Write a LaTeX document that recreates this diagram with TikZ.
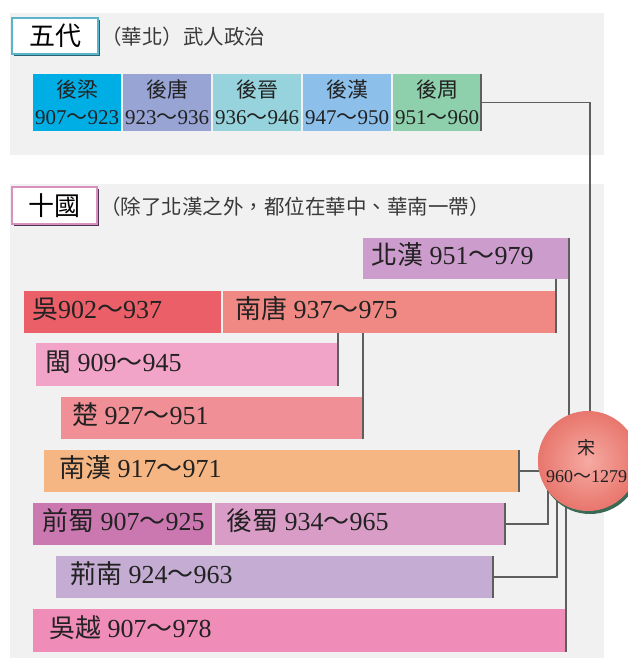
\documentclass[tikz,border=0pt]{standalone}
\usepackage{fontspec}
\setmainfont{Liberation Serif}
\newfontfamily\cjk{Noto Sans CJK TC}
\usetikzlibrary{calc,shadows}
\definecolor{cPanel}{HTML}{F1F1F1}
\definecolor{cLine}{HTML}{5E5E5E}
\definecolor{cText}{HTML}{222222}
\definecolor{cSub}{HTML}{3A3A3A}
\definecolor{cHouliang}{HTML}{00AEE6}
\definecolor{cHoutang}{HTML}{98A4D4}
\definecolor{cHoujin}{HTML}{96D3DC}
\definecolor{cHouhan}{HTML}{8CBFEA}
\definecolor{cHouzhou}{HTML}{8ECFAC}
\definecolor{cBeihan}{HTML}{CC9CCC}
\definecolor{cWu}{HTML}{EA5F68}
\definecolor{cNantang}{HTML}{F08883}
\definecolor{cMin}{HTML}{F2A3C8}
\definecolor{cChu}{HTML}{F08F95}
\definecolor{cNanhan}{HTML}{F5B683}
\definecolor{cQianshu}{HTML}{CC78B0}
\definecolor{cHoushu}{HTML}{D99CC6}
\definecolor{cJingnan}{HTML}{C4ACD2}
\definecolor{cWuyue}{HTML}{F08CB8}
\definecolor{cTeal}{HTML}{5AB4CC}
\definecolor{cTealSh}{HTML}{2A6272}
\definecolor{cPink}{HTML}{D890BC}
\definecolor{cPinkSh}{HTML}{4E3450}
\definecolor{cSongIn}{HTML}{F6AAA2}
\definecolor{cSongOut}{HTML}{E8766D}
\definecolor{cSongSh}{HTML}{3A6A55}
\pgfdeclarelayer{bg}
\pgfdeclarelayer{fg}
\pgfsetlayers{bg,main,fg}
\tikzset{
  panel/.style={fill=cPanel},
  conn/.style={draw=cLine, line width=1.3pt},
  kbox/.style={anchor=north west, inner sep=0pt, outer sep=0pt},
  ktext/.style={inner sep=0pt, text=cText, font=\fontsize{26}{30}\selectfont},
  tbox/.style={anchor=north west, inner sep=0pt, outer sep=0pt, minimum width=88, minimum height=57,
    align=center, text=cText, font=\fontsize{21}{27}\selectfont},
  labelbox/.style={inner sep=0pt, outer sep=0pt, fill=white, line width=2pt,
    font=\fontsize{26}{30}\selectfont\cjk, text=black},
  subtitle/.style={inner sep=0pt, anchor=west, text=cSub, font=\fontsize{20.5}{24}\selectfont\cjk},
}
\newcommand\kingdombox[8]{%
  \node[kbox, fill=#6, minimum width=#4-#2, minimum height=#5-#3] (#1) at (#2,#3) {};
  \node[ktext, anchor=base west] (#1t) at ($(#1.south west)+(#7,-15)$) {#8};
}
\begin{document}
\begin{tikzpicture}[x=1pt,y=-1pt]
\useasboundingbox (0,0) rectangle (627,660);
\begin{pgfonlayer}{bg}
  \fill[panel] (10,13) rectangle (604,155);
  \fill[panel] (10,184) rectangle (604,658);
\end{pgfonlayer}
% Song circle (front)
\begin{pgfonlayer}{fg}
  \node[circle, minimum size=100, inner sep=0pt, shading=radial, inner color=cSongIn, outer color=cSongOut,
        drop shadow={shadow xshift=2pt, shadow yshift=-3pt, fill=cSongSh, opacity=1}] (song) at (588,461) {};
  \node[align=center, inner sep=0pt, text=cText, font=\fontsize{18}{28}\selectfont] (songt) at (586.5,461)
        {{\cjk 宋}\\960{\cjk ～}1279};
\end{pgfonlayer}
% Five Dynasties
\node[labelbox, draw=cTeal, minimum width=86, minimum height=36,
      drop shadow={shadow xshift=2pt, shadow yshift=-2pt, fill=cTealSh, opacity=1}] (wudai) at (55,36) {五代};
\node[subtitle] (wudaisub) at (101,37) {（華北）武人政治};
\node[tbox, fill=cHouliang] (houliang) at (33,74) {{\cjk 後梁}\\907{\cjk ～}923};
\node[tbox, fill=cHoutang] (houtang) at (123,74) {{\cjk 後唐}\\923{\cjk ～}936};
\node[tbox, fill=cHoujin] (houjin) at (213,74) {{\cjk 後晉}\\936{\cjk ～}946};
\node[tbox, fill=cHouhan] (houhan) at (303,74) {{\cjk 後漢}\\947{\cjk ～}950};
\node[tbox, fill=cHouzhou] (houzhou) at (393,74) {{\cjk 後周}\\951{\cjk ～}960};
% Ten Kingdoms
\node[labelbox, draw=cPink, minimum width=85, minimum height=37,
      drop shadow={shadow xshift=2pt, shadow yshift=-2pt, fill=cPinkSh, opacity=1}] (shiguo) at (54.5,205.5) {十國};
\node[subtitle] (shiguosub) at (100,207) {（除了北漢之外，都位在華中、華南一帶）};
\kingdombox{beihan}{363}{238}{569}{279}{cBeihan}{8}{{\cjk 北漢} 951{\cjk ～}979}
\kingdombox{wu}{24}{291}{221}{333}{cWu}{8}{{\cjk 吳}902{\cjk ～}937}
\kingdombox{nantang}{223}{291}{556}{333}{cNantang}{12}{{\cjk 南唐} 937{\cjk ～}975}
\kingdombox{min}{36}{343}{338}{386}{cMin}{9}{{\cjk 閩} 909{\cjk ～}945}
\kingdombox{chu}{61}{397}{363}{439}{cChu}{11}{{\cjk 楚} 927{\cjk ～}951}
\kingdombox{nanhan}{44}{450}{519}{492}{cNanhan}{15}{{\cjk 南漢} 917{\cjk ～}971}
\kingdombox{qianshu}{33}{503}{212}{545}{cQianshu}{9}{{\cjk 前蜀} 907{\cjk ～}925}
\kingdombox{houshu}{215}{503}{505}{545}{cHoushu}{11}{{\cjk 後蜀} 934{\cjk ～}965}
\kingdombox{jingnan}{56}{556}{493}{598}{cJingnan}{14}{{\cjk 荊南} 924{\cjk ～}963}
\kingdombox{wuyue}{33}{609}{566}{652}{cWuyue}{16}{{\cjk 吳越} 907{\cjk ～}978}
% connectors
\draw[conn] (houzhou.north east) -- (houzhou.south east);
\draw[conn] (houzhou.east) -| ($(song.center)+(2,0)$);
\draw[conn] (beihan.north east) -- (beihan.north east |- song.center);
\draw[conn] (nantang.south east) -- (nantang.south east |- beihan.south);
\draw[conn] (min.south east) -- (min.south east |- nantang.south);
\draw[conn] (chu.south east) -- (chu.south east |- nantang.south);
\draw[conn] (nanhan.north east) -- (nanhan.south east);
\draw[conn] (nanhan.east) -- (nanhan.east -| song.center);
\draw[conn] (houshu.north east) -- (houshu.south east);
\draw[conn] (houshu.east) -| ($(song.center)+(-40,0)$);
\draw[conn] (jingnan.north east) -- (jingnan.south east);
\draw[conn] (jingnan.east) -| ($(song.center)+(-31,0)$);
\draw[conn] (wuyue.south east) -- (wuyue.north east |- song.center);
\end{tikzpicture}
\end{document}
